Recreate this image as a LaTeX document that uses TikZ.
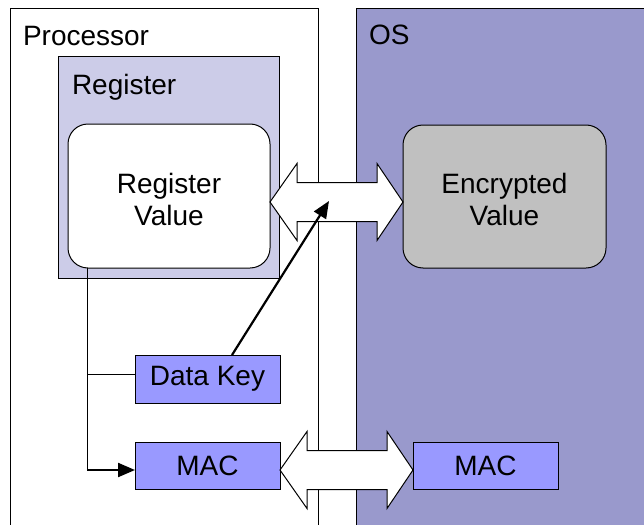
\documentclass[tikz,border=0pt]{standalone}
\usepackage{fontspec}
\setmainfont{Liberation Sans}
\usetikzlibrary{arrows.meta,calc}
\definecolor{regfill}{HTML}{CCCCE8}
\definecolor{osfill}{HTML}{9999CC}
\definecolor{keyfill}{HTML}{9999FF}
\definecolor{encfill}{HTML}{C0C0C0}
\begin{document}
\begin{tikzpicture}[x=1pt,y=-1pt,
  every node/.style={font=\fontsize{28}{32}\selectfont, inner sep=0pt, outer sep=0pt},
  area/.style={draw=black, line width=1pt},
  keybox/.style={draw=black, line width=1pt, fill=keyfill, align=center},
  valbox/.style={draw=black, line width=1pt, rounded corners=20pt, align=center},
  bigarrow/.style={draw=black, line width=1pt, fill=white},
  wire/.style={draw=black, line width=1pt},
  tipwire/.style={draw=black, line width=2.2pt, -{Triangle[length=17pt,width=14pt]}}]
\useasboundingbox (0,0) rectangle (644,524);
\clip (0,0) rectangle (644,524);
\fill[white] (0,0) rectangle (644,524);

% processor and OS regions
\draw[area] (10,540) |- (318,9) -- (318,540);
\node[area, fill=osfill, anchor=north west, minimum width=320pt, minimum height=540pt] (os) at (356,9) {};
\node[anchor=base west] (proclbl) at (23,46) {Processor};
\node[anchor=base west] (oslbl) at (369,45) {OS};

% register
\node[area, fill=regfill, anchor=north west, minimum width=221pt, minimum height=221pt] (reg) at (58,57) {};
\node[anchor=base west] (reglbl) at (72,95) {Register};
\node[valbox, fill=white, anchor=north west, minimum width=202pt, minimum height=144pt] (rv) at (68,124) {};
\node (rvtext) at (169,199) [align=center] {Register\\Value};

% encrypted value
\node[valbox, fill=encfill, anchor=north west, minimum width=203pt, minimum height=143pt] (enc) at (403,125) {};
\node (enctext) at (504.5,199) [align=center] {Encrypted\\Value};

% keys
\node[keybox, anchor=north west, minimum width=145pt, minimum height=48pt] (dk) at (135,355) {Data Key};
\node[keybox, anchor=north west, minimum width=145pt, minimum height=47pt] (mac) at (135,442) {MAC};
\node[keybox, anchor=north west, minimum width=145pt, minimum height=47pt] (osmac) at (413,442) {MAC};

% wide two-headed arrows
\coordinate (ta) at (270,202);
\coordinate (tb) at (403,202);
\draw[bigarrow] (ta) -- ++(27,-38.5) -- ++(0,19) -- ($(tb)+(-26,-19.5)$) -- ++(0,-19) -- (tb)
  -- ++(-26,38.5) -- ++(0,-19) -- ($(ta)+(27,19.5)$) -- ++(0,19) -- cycle;
\coordinate (ba) at ($(mac.east)+(0,4.5)$);
\coordinate (bb) at ($(osmac.west)+(0,4.5)$);
\draw[bigarrow] (ba) -- ++(27,-38.5) -- ++(0,19) -- ($(bb)+(-26,-19.5)$) -- ++(0,-19) -- (bb)
  -- ++(-26,38.5) -- ++(0,-19) -- ($(ba)+(27,19.5)$) -- ++(0,19) -- cycle;

% wiring
\coordinate (tap) at (87,268);
\coordinate (knee) at (87,470);
\coordinate (branch) at (87,374);
\draw[wire] (tap) -- (knee);
\draw[wire] (branch) -- (dk.west |- branch);
\draw[tipwire] (knee) -- (mac.west |- knee);
\coordinate (keytop) at (232,355);
\coordinate (keyend) at (329,201);
\draw[tipwire] (keytop) -- (keyend);
\end{tikzpicture}
\end{document}
